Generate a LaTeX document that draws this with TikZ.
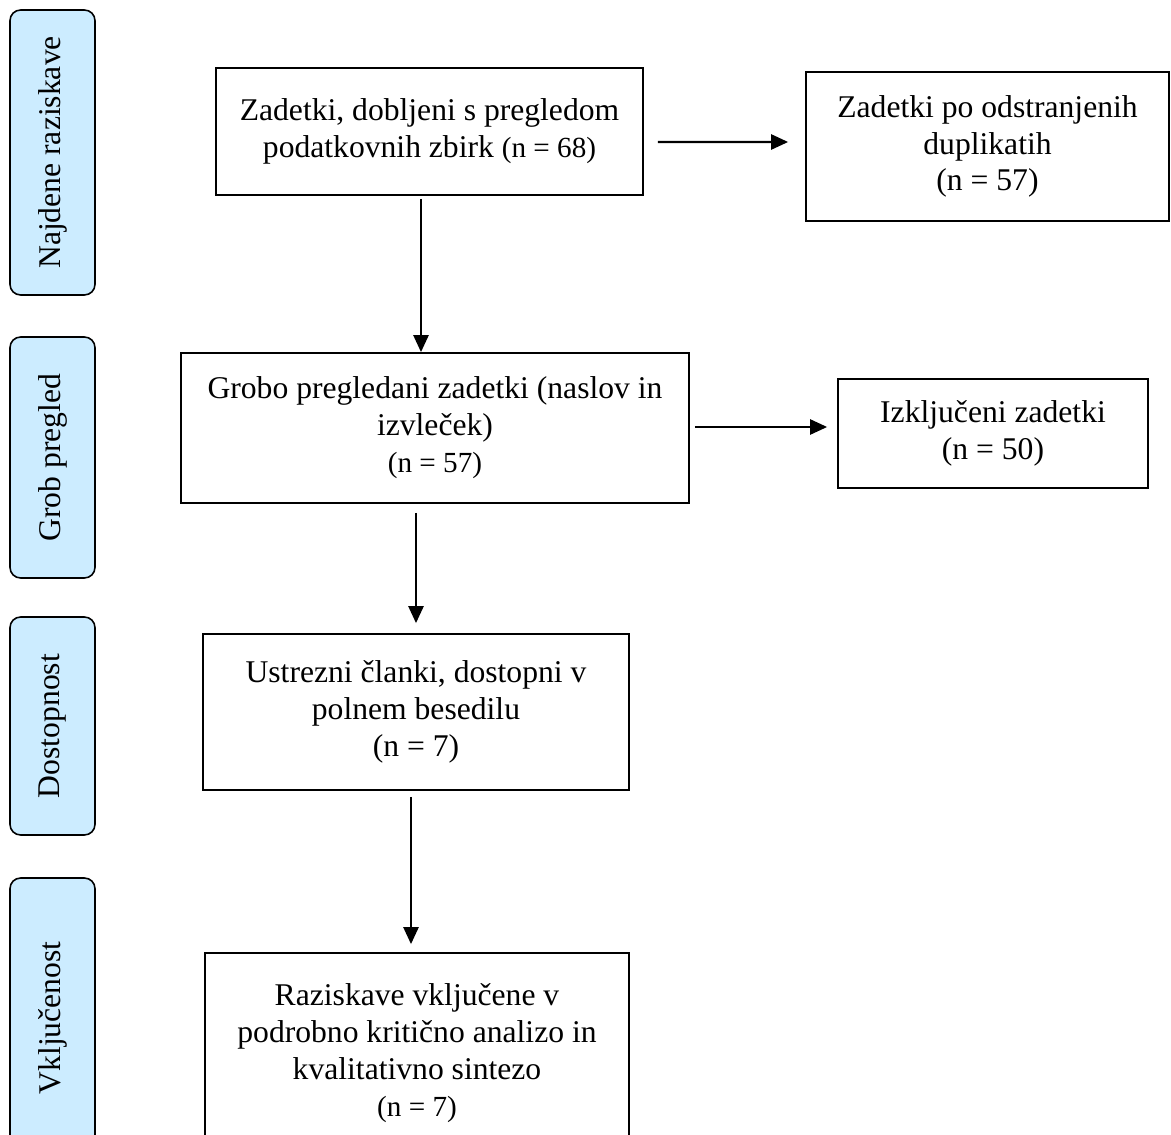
\documentclass[tikz,border=0pt]{standalone}
\usepackage{fontspec}
\setmainfont{Liberation Serif}
\usetikzlibrary{arrows.meta,calc}
\definecolor{stageblue}{RGB}{204,236,255}
\newcommand{\nval}[1]{{\fontsize{16.6}{21}\selectfont #1}}
\tikzset{
  stagebox/.style = {draw,line width=0.9pt,rounded corners=6pt,fill=stageblue,rotate=90,minimum height=1.7cm,inner sep=0pt},
  flowbox/.style  = {draw,line width=1pt,align=center,inner sep=0pt},
  flowarr/.style  = {-{Triangle[length=0.34cm,width=0.3cm]},line width=1.4pt}
}

\begin{document}
\begin{tikzpicture}[x=0.02cm,y=-0.02cm,font=\fontsize{18}{21}\selectfont]
  \useasboundingbox (0,0) rectangle (1171,1135);
  % stages on the left
  \node[stagebox,minimum width=5.7cm]  (s1) at (52.5,152.5) {Najdene raziskave};
  \node[stagebox,minimum width=4.82cm] (s2) at (52.5,457.5) {Grob pregled};
  \node[stagebox,minimum width=4.36cm] (s3) at (52.5,726)   {Dostopnost};
  \node[stagebox,minimum width=5.6cm]  (s4) at (52.5,1018)  {Vključenost};
  % flow boxes
  \node[flowbox,minimum width=8.54cm,minimum height=2.54cm] (A) at (429.5,131.5)
    {Zadetki, dobljeni s pregledom\\podatkovnih zbirk \nval{(n = 68)}};
  \node[flowbox,minimum width=7.26cm,minimum height=2.98cm] (B) at (987.5,146.5)
    {Zadetki po odstranjenih\\duplikatih\\(n = 57)};
  \node[flowbox,minimum width=10.16cm,minimum height=3.0cm] (C) at (435,428)
    {Grobo pregledani zadetki (naslov in\\izvleček)\\\nval{(n = 57)}};
  \node[flowbox,minimum width=6.2cm,minimum height=2.18cm] (D) at (993,433.5)
    {Izključeni zadetki\\(n = 50)};
  \node[flowbox,minimum width=8.52cm,minimum height=3.12cm] (E) at (416,712)
    {Ustrezni članki, dostopni v\\polnem besedilu\\(n = 7)};
  \node[flowbox,minimum width=8.48cm,minimum height=4.0cm] (F) at (417,1053)
    {Raziskave vključene v\\podrobno kritično analizo in\\kvalitativno sintezo\\\nval{(n = 7)}};
  % arrows
  \draw[flowarr] ($(A.east)+(14,10.5)$) -- ($(B.west)+(-17,-4.5)$);
  \draw[flowarr] ($(A.south)+(-8.5,3)$) -- ($(C.north)+(-14,0)$);
  \draw[flowarr] ($(C.east)+(5,-1)$) -- ($(D.west)+(-10,-6.5)$);
  \draw[flowarr] ($(C.south)+(-19,9)$) -- ($(E.north)+(0,-10)$);
  \draw[flowarr] ($(E.south)+(-5,6)$) -- ($(F.north)+(-6,-8)$);
\end{tikzpicture}
\end{document}
